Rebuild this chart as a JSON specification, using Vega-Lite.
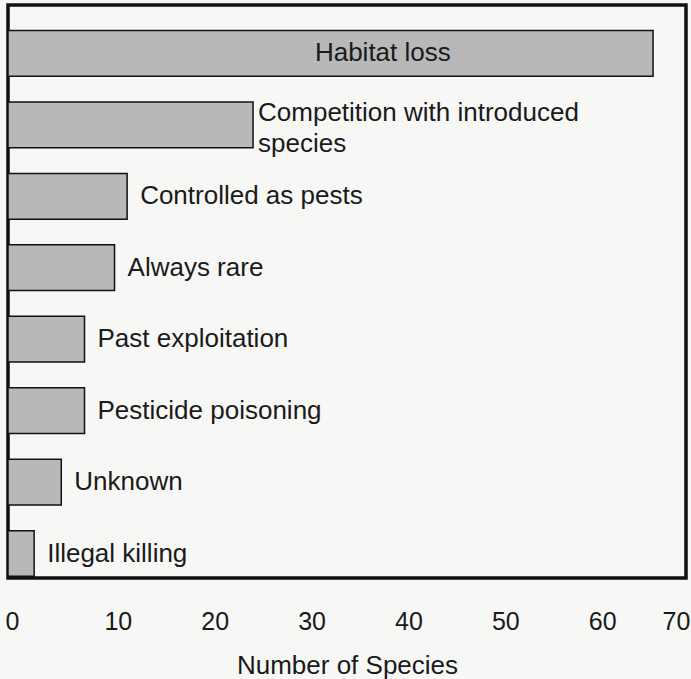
{
  "$schema": "https://vega.github.io/schema/vega-lite/v6.json",
  "autosize": "none",
  "padding": {"left": 8, "top": 5, "right": 5, "bottom": 101},
  "width": 678,
  "height": 573,
  "background": "#f7f7f5",
  "config": {
    "view": {"stroke": "#111", "strokeWidth": 3.5},
    "font": "Liberation Sans"
  },
  "data": {
    "values": [
      {"cause": "Habitat loss", "count": 66.6, "label": "Habitat loss"},
      {"cause": "Competition with introduced species", "count": 25.3, "label": "Competition with introduced\nspecies"},
      {"cause": "Controlled as pests", "count": 12.3, "label": "Controlled as pests"},
      {"cause": "Always rare", "count": 11, "label": "Always rare"},
      {"cause": "Past exploitation", "count": 7.9, "label": "Past exploitation"},
      {"cause": "Pesticide poisoning", "count": 7.9, "label": "Pesticide poisoning"},
      {"cause": "Unknown", "count": 5.5, "label": "Unknown"},
      {"cause": "Illegal killing", "count": 2.7, "label": "Illegal killing"}
    ]
  },
  "encoding": {
    "y": {
      "field": "cause",
      "type": "nominal",
      "sort": null,
      "axis": null,
      "scale": {"paddingInner": 0.36, "paddingOuter": 0.19, "align": 0.94}
    }
  },
  "layer": [
    {
      "mark": {"type": "bar", "fill": "#b8b8b8", "stroke": "#111", "strokeWidth": 1.5},
      "encoding": {
        "x": {
          "field": "count",
          "type": "quantitative",
          "scale": {"domain": [0, 70], "nice": false},
          "axis": {
            "values": [0, 10, 20, 30, 40, 50, 60, 70],
            "title": "Number of Species",
            "titleFontSize": 26,
            "titleFontWeight": "normal",
            "titleColor": "#1a1a1a",
            "titlePadding": 18,
            "labelFontSize": 25,
            "labelColor": "#1a1a1a",
            "labelPadding": 31,
            "labelFlush": false,
            "labelOffset": {
              "condition": [
                {"test": "datum.value === 0", "value": 4},
                {"test": "datum.value === 70", "value": -10}
              ],
              "value": 13
            },
            "ticks": false,
            "domain": false,
            "grid": false
          }
        }
      }
    },
    {
      "transform": [{"filter": "datum.cause !== 'Habitat loss' && datum.cause !== 'Competition with introduced species'"}],
      "mark": {"type": "text", "align": "left", "baseline": "middle", "dx": 13, "fontSize": 26, "color": "#1a1a1a"},
      "encoding": {
        "x": {"field": "count", "type": "quantitative"},
        "text": {"field": "label"}
      }
    },
    {
      "transform": [{"filter": "datum.cause === 'Competition with introduced species'"}],
      "mark": {"type": "text", "align": "left", "baseline": "middle", "dx": 5, "dy": -12, "fontSize": 26, "lineHeight": 31, "lineBreak": "\n", "color": "#1a1a1a"},
      "encoding": {
        "x": {"field": "count", "type": "quantitative"},
        "text": {"field": "label"}
      }
    },
    {
      "transform": [{"filter": "datum.cause === 'Habitat loss'"}],
      "mark": {"type": "text", "align": "center", "baseline": "middle", "fontSize": 26, "color": "#1a1a1a"},
      "encoding": {
        "x": {"datum": 38.7, "type": "quantitative"},
        "text": {"field": "label"}
      }
    }
  ]
}
